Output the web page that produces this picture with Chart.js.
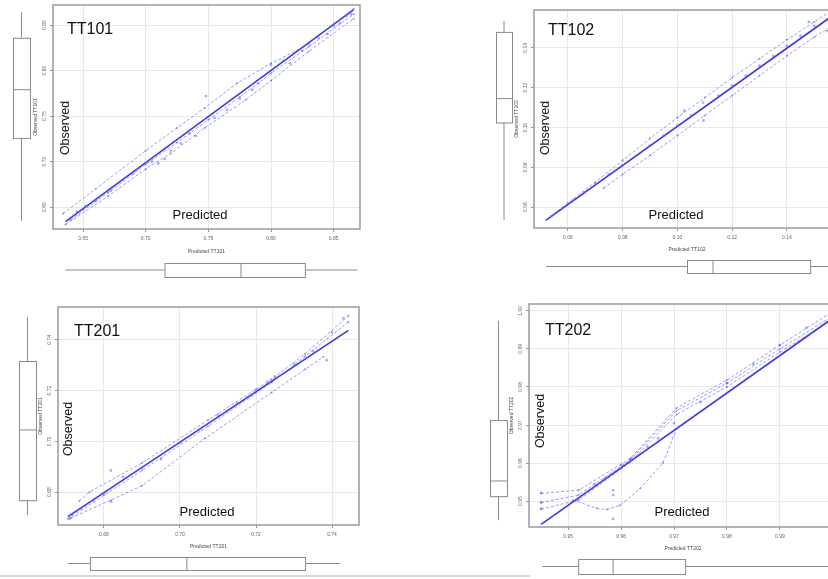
<!DOCTYPE html>
<html>
<head>
<meta charset="utf-8">
<script src="https://cdn.jsdelivr.net/npm/chart.js@4.4.1/dist/chart.umd.min.js"></script>
<style>
  html, body { margin: 0; padding: 0; background: #fff; }
  #page { position: relative; width: 828px; height: 579px; overflow: hidden; font-family: "Liberation Sans", Arial, sans-serif; }
  canvas { position: absolute; }
  .tag { position: absolute; color: #111; line-height: 1; white-space: nowrap; }
  .big { font-size: 16px; }
  .mid { font-size: 13px; transform: translateX(-50%); }
  .rot { font-size: 12.5px; transform: translate(-50%, -50%) rotate(-90deg); }
  .rule { position: absolute; left: 0; top: 575px; width: 530px; height: 2px; background: #d6d6d6; }
</style>
</head>
<body>
<div id="page">
  <canvas id="tt101" width="414" height="285" style="left:0;top:0"></canvas>
  <canvas id="tt102" width="380" height="285" style="left:480px;top:0"></canvas>
  <canvas id="tt201" width="414" height="289" style="left:0;top:290px"></canvas>
  <canvas id="tt202" width="380" height="289" style="left:480px;top:290px"></canvas>

  <div class="tag big" style="left:67px;top:21px">TT101</div>
  <div class="tag rot" style="left:65px;top:128px">Observed</div>
  <div class="tag mid" style="left:200px;top:208px">Predicted</div>

  <div class="tag big" style="left:548px;top:22px">TT102</div>
  <div class="tag rot" style="left:545px;top:128px">Observed</div>
  <div class="tag mid" style="left:676px;top:208px">Predicted</div>

  <div class="tag big" style="left:74px;top:323px">TT201</div>
  <div class="tag rot" style="left:68px;top:429px">Observed</div>
  <div class="tag mid" style="left:207px;top:505px">Predicted</div>

  <div class="tag big" style="left:545px;top:322px">TT202</div>
  <div class="tag rot" style="left:540px;top:421px">Observed</div>
  <div class="tag mid" style="left:682px;top:505px">Predicted</div>

  <div class="rule"></div>
</div>
<script>
// ---- TT101 ----
const tt101XTicks = [0.65, 0.70, 0.75, 0.80, 0.85];
const tt101YTicks = [0.65, 0.70, 0.75, 0.80, 0.85];
const tt101Fit = [[0.636, 0.634], [0.866, 0.867]];
const tt101Upper = [[0.634, 0.643], [0.66, 0.670], [0.70, 0.712], [0.725, 0.737], [0.747, 0.759], [0.773, 0.786], [0.80, 0.808], [0.826, 0.826], [0.85, 0.851], [0.866, 0.868]];
const tt101Near = [[0.640, 0.636], [0.67, 0.666], [0.70, 0.697], [0.725, 0.721], [0.75, 0.746], [0.775, 0.771], [0.80, 0.797], [0.83, 0.826], [0.866, 0.862]];
const tt101Lower = [[0.636, 0.631], [0.67, 0.662], [0.70, 0.692], [0.72, 0.709], [0.747, 0.737], [0.78, 0.768], [0.80, 0.789], [0.83, 0.821], [0.866, 0.857]];
const tt101Points = [[0.748, 0.772], [0.645, 0.645], [0.652, 0.651], [0.66, 0.657], [0.672, 0.668], [0.69, 0.687], [0.705, 0.700], [0.71, 0.698], [0.715, 0.703], [0.72, 0.712], [0.728, 0.720], [0.735, 0.731], [0.74, 0.728], [0.755, 0.748], [0.765, 0.757], [0.775, 0.769], [0.785, 0.779], [0.79, 0.786], [0.80, 0.806], [0.81, 0.811], [0.815, 0.808], [0.825, 0.822], [0.83, 0.829], [0.838, 0.836], [0.845, 0.840], [0.85, 0.849], [0.855, 0.852], [0.86, 0.860], [0.864, 0.862]];
const tt101BoxX = [0.636, 0.715, 0.776, 0.827, 0.869]; // min, q1, median, q3, max
const tt101BoxY = [0.635, 0.726, 0.779, 0.836, 0.864];

// ---- TT102 ----
const tt102XTicks = [0.06, 0.08, 0.10, 0.12, 0.14];
const tt102YTicks = [0.06, 0.08, 0.10, 0.12, 0.14];
const tt102Fit = [[0.052, 0.0535], [0.157, 0.1565]];
const tt102Upper = [[0.052, 0.0535], [0.06, 0.062], [0.07, 0.0725], [0.08, 0.0835], [0.09, 0.0945], [0.10, 0.105], [0.11, 0.115], [0.12, 0.125], [0.13, 0.1345], [0.14, 0.144], [0.15, 0.153], [0.156, 0.1585]];
const tt102Lower = [[0.073, 0.0695], [0.08, 0.0765], [0.09, 0.086], [0.10, 0.096], [0.11, 0.106], [0.12, 0.116], [0.13, 0.126], [0.14, 0.136], [0.15, 0.1455], [0.157, 0.1515]];
const tt102Points = [[0.1025, 0.1085], [0.1095, 0.1035], [0.1094, 0.1125], [0.148, 0.153], [0.1547, 0.1485], [0.054, 0.0555], [0.058, 0.0595], [0.062, 0.0635], [0.066, 0.0675], [0.07, 0.0715], [0.075, 0.0765], [0.08, 0.081], [0.085, 0.086], [0.09, 0.091], [0.095, 0.096], [0.10, 0.101], [0.105, 0.106], [0.115, 0.116], [0.12, 0.121], [0.125, 0.126], [0.13, 0.131], [0.135, 0.136], [0.14, 0.141], [0.145, 0.146], [0.15, 0.151]];
const tt102BoxX = [0.052, 0.1035, 0.113, 0.1485, 0.158];
const tt102BoxY = [0.0535, 0.1025, 0.1145, 0.148, 0.1535];

// ---- TT201 ----
const tt201XTicks = [0.68, 0.70, 0.72, 0.74];
const tt201YTicks = [0.68, 0.70, 0.72, 0.74];
const tt201Fit = [[0.6705, 0.6703], [0.7443, 0.7438]];
const tt201Upper = [[0.6735, 0.6765], [0.6762, 0.680], [0.69, 0.6915], [0.7074, 0.7084], [0.7241, 0.7245], [0.7329, 0.7345], [0.7443, 0.7495]];
const tt201Mid = [[0.6705, 0.6695], [0.69, 0.6885], [0.7074, 0.706], [0.7241, 0.7232], [0.7329, 0.7335], [0.7443, 0.7471]];
const tt201Lower = [[0.6713, 0.6698], [0.6818, 0.6768], [0.69, 0.6825], [0.7066, 0.7012], [0.7241, 0.7193], [0.7329, 0.7284], [0.7377, 0.7333]];
const tt201Points = [[0.6818, 0.6885], [0.6819, 0.6762], [0.7386, 0.732], [0.671, 0.6695], [0.6715, 0.671], [0.674, 0.6735], [0.677, 0.6765], [0.68, 0.679], [0.685, 0.686], [0.69, 0.6895], [0.695, 0.693], [0.70, 0.6995], [0.705, 0.7045], [0.71, 0.7105], [0.715, 0.715], [0.72, 0.7205], [0.723, 0.7235], [0.725, 0.7255], [0.73, 0.7305], [0.735, 0.7355], [0.74, 0.743], [0.743, 0.7485]];
const tt201BoxX = [0.6705, 0.6763, 0.7018, 0.7329, 0.7421];
const tt201BoxY = [0.6709, 0.6768, 0.7045, 0.7317, 0.749];

// ---- TT202 ----
const tt202XTicks = [0.95, 0.96, 0.97, 0.98, 0.99, 1.00];
const tt202YTicks = [0.95, 0.96, 0.97, 0.98, 0.99, 1.00];
const tt202Fit = [[0.9449, 0.9439], [0.9995, 0.9976]];
const tt202UpperTop = [[0.9449, 0.952], [0.952, 0.9529], [0.9617, 0.9612], [0.9705, 0.9745], [0.98, 0.9818], [0.99, 0.991], [0.9995, 0.9994]];
const tt202UpperMid = [[0.9449, 0.9496], [0.952, 0.9516], [0.9617, 0.9608], [0.9705, 0.9738], [0.98, 0.981], [0.99, 0.99], [0.9995, 0.9982]];
const tt202UpperLow = [[0.9449, 0.9479], [0.952, 0.9503], [0.9617, 0.9602], [0.9705, 0.9728], [0.98, 0.98], [0.99, 0.9892], [0.9995, 0.9972]];
const tt202Lower = [[0.9509, 0.9503], [0.9554, 0.9481], [0.9573, 0.9478], [0.9598, 0.9489], [0.9636, 0.9533], [0.9679, 0.96], [0.9705, 0.969]];
const tt202Points = [[0.9585, 0.9529], [0.9585, 0.9516], [0.9585, 0.9453], [0.9449, 0.9522], [0.9449, 0.9497], [0.9449, 0.948], [0.955, 0.9545], [0.957, 0.956], [0.96, 0.9595], [0.962, 0.9612], [0.965, 0.9642], [0.967, 0.9665], [0.97, 0.9705], [0.975, 0.976], [0.98, 0.981], [0.985, 0.986], [0.99, 0.991], [0.995, 0.9955]];
const tt202BoxX = [0.9451, 0.9519, 0.9585, 0.9721, 0.9995];
const tt202BoxY = [0.945, 0.9513, 0.9553, 0.9713, 0.9974];

const FONT = "'Liberation Sans', Arial, sans-serif";

// frame round the plot plus the two marginal boxplots, placed with the chart's scales
const panelFrame = {
  id: 'panelFrame',
  beforeDatasetsDraw(chart, args, opts) {
    const { ctx, chartArea: a, scales: { x, y } } = chart;
    ctx.save();
    ctx.strokeStyle = '#9a9a9a';
    ctx.lineWidth = 1.5;
    ctx.strokeRect(a.left, a.top, a.right - a.left, a.bottom - a.top);

    ctx.strokeStyle = '#8a8a8a';
    ctx.lineWidth = 1;
    ctx.fillStyle = '#fff';
    // bottom box (x)
    const bx = opts.boxX.map(v => x.getPixelForValue(v));
    const [t, b] = opts.xBand, m = (t + b) / 2;
    ctx.beginPath();
    ctx.moveTo(bx[0], m); ctx.lineTo(bx[1], m);
    ctx.moveTo(bx[3], m); ctx.lineTo(bx[4], m);
    ctx.stroke();
    ctx.fillRect(bx[1], t, bx[3] - bx[1], b - t);
    ctx.strokeRect(bx[1] + 0.5, t + 0.5, bx[3] - bx[1], b - t);
    ctx.beginPath(); ctx.moveTo(bx[2], t); ctx.lineTo(bx[2], b); ctx.stroke();
    // left box (y)
    const by = opts.boxY.map(v => y.getPixelForValue(v));
    const [l, r] = opts.yBand, c = (l + r) / 2;
    ctx.beginPath();
    ctx.moveTo(c, by[0]); ctx.lineTo(c, by[1]);
    ctx.moveTo(c, by[3]); ctx.lineTo(c, by[4]);
    ctx.stroke();
    ctx.fillRect(l, by[3], r - l, by[1] - by[3]);
    ctx.strokeRect(l + 0.5, by[3] + 0.5, r - l, by[1] - by[3]);
    ctx.beginPath(); ctx.moveTo(l, by[2]); ctx.lineTo(r, by[2]); ctx.stroke();
    ctx.restore();
  }
};

function pts(a) { return a.map(([x, y]) => ({ x, y })); }

function makePanel(id, p) {
  const band = d => ({
    data: pts(d), showLine: true, borderColor: 'rgba(85,85,255,0.6)', borderWidth: 1,
    borderDash: [3, 2], pointRadius: 1, pointBackgroundColor: 'rgba(85,85,255,0.6)', pointBorderWidth: 0
  });
  const axisTicks = list => s => { s.ticks = list.map(v => ({ value: v })); };
  new Chart(document.getElementById(id), {
    type: 'scatter',
    data: {
      datasets: [
        ...p.bands.map(band),
        { data: pts(p.points), pointRadius: 1.4, pointBackgroundColor: 'rgba(100,100,255,0.55)', pointBorderWidth: 0, showLine: false },
        { data: pts(p.fit), showLine: true, borderColor: 'rgba(45,45,235,0.95)', borderWidth: 1.6, pointRadius: 0 }
      ]
    },
    options: {
      responsive: false,
      animation: false,
      devicePixelRatio: 1,
      layout: { padding: p.pad },
      plugins: {
        legend: { display: false },
        tooltip: { enabled: false },
        panelFrame: { boxX: p.boxX, boxY: p.boxY, xBand: p.xBand, yBand: p.yBand }
      },
      scales: {
        x: {
          type: 'linear', min: p.xRange[0], max: p.xRange[1],
          afterBuildTicks: axisTicks(p.xTicks),
          afterFit: s => { s.height = p.xH; },
          ticks: { font: { size: 5, family: FONT }, color: '#666', padding: 4, maxRotation: 0, autoSkip: false, callback: v => v.toFixed(2) },
          grid: { color: '#e8e8e8', tickLength: 3, tickColor: '#999' },
          border: { display: false },
          title: { display: true, text: p.xTitle, font: { size: 5, family: FONT }, color: '#444', padding: 0 }
        },
        y: {
          type: 'linear', min: p.yRange[0], max: p.yRange[1],
          afterBuildTicks: axisTicks(p.yTicks),
          afterFit: s => { s.width = 20; },
          ticks: { font: { size: 5, family: FONT }, color: '#666', padding: 1, minRotation: 90, maxRotation: 90, crossAlign: 'center', autoSkip: false, callback: v => v.toFixed(2) },
          grid: { color: '#e8e8e8', tickLength: 3, tickColor: '#999' },
          border: { display: false },
          title: { display: true, text: p.yTitle, font: { size: 5, family: FONT }, color: '#444', padding: 0 }
        }
      }
    },
    plugins: [panelFrame]
  });
}

makePanel('tt101', {
  xTicks: tt101XTicks, yTicks: tt101YTicks, fit: tt101Fit, bands: [tt101Upper, tt101Near, tt101Lower], points: tt101Points,
  boxX: tt101BoxX, boxY: tt101BoxY, xRange: [0.626, 0.871], yRange: [0.626, 0.872],
  pad: { left: 33, right: 54, top: 5, bottom: 30 }, xH: 26, xBand: [263, 277], yBand: [13, 30],
  xTitle: 'Predicted.TT101', yTitle: 'Observed TT101'
});
makePanel('tt102', {
  xTicks: tt102XTicks, yTicks: tt102YTicks, fit: tt102Fit, bands: [tt102Upper, tt102Lower], points: tt102Points,
  boxX: tt102BoxX, boxY: tt102BoxY, xRange: [0.0476, 0.1594], yRange: [0.0495, 0.159],
  pad: { left: 34, right: 20, top: 10, bottom: 32 }, xH: 25, xBand: [260, 273], yBand: [16, 32],
  xTitle: 'Predicted TT102', yTitle: 'Observed TT102'
});
makePanel('tt201', {
  xTicks: tt201XTicks, yTicks: tt201YTicks, fit: tt201Fit, bands: [tt201Upper, tt201Mid, tt201Lower], points: tt201Points,
  boxX: tt201BoxX, boxY: tt201BoxY, xRange: [0.6679, 0.7471], yRange: [0.667, 0.753],
  pad: { left: 38, right: 55, top: 17, bottom: 29 }, xH: 25, xBand: [267, 280], yBand: [19, 36],
  xTitle: 'Predicted TT201', yTitle: 'Observed TT201'
});
makePanel('tt202', {
  xTicks: tt202XTicks, yTicks: tt202YTicks, fit: tt202Fit, bands: [tt202UpperTop, tt202UpperMid, tt202UpperLow, tt202Lower], points: tt202Points,
  boxX: tt202BoxX, boxY: tt202BoxY, xRange: [0.9426, 1.0008], yRange: [0.9432, 1.0018],
  pad: { left: 29, right: 23, top: 14, bottom: 27 }, xH: 25, xBand: [269, 284], yBand: [10, 27],
  xTitle: 'Predicted TT202', yTitle: 'Observed TT202'
});
</script>
</body>
</html>
